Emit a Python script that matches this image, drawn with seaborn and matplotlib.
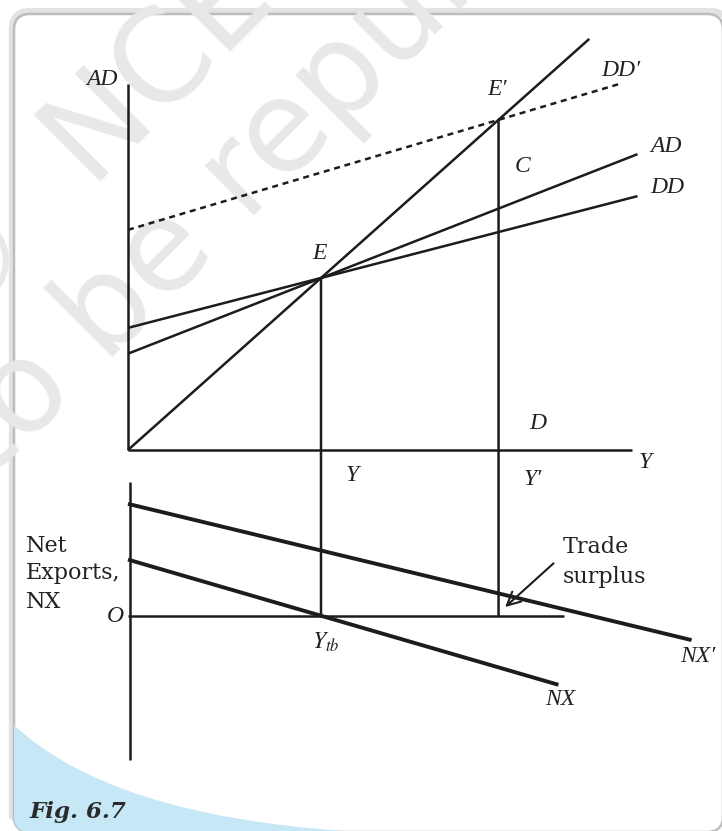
import numpy as np
import pandas as pd
import matplotlib.pyplot as plt
import seaborn as sns
from matplotlib.patches import FancyBboxPatch, PathPatch, ConnectionPatch
from matplotlib.path import Path

# upper panel: income Y (x) against aggregate demand (y), 45 degree line is AD = Y
line45_y = [0.0, 11.95]
line45_ad = [0.0, 11.95]
ad_y = [0.0, 13.2]
ad_ad = [2.8, 8.6]
dd_y = [0.0, 13.2]
dd_ad = [3.55, 7.38]
dd2_y = [0.0, 12.7]
dd2_ad = [6.4, 10.63]
eq_y = [5.0, 9.6]      # E and E'
eq_ad = [5.0, 9.6]

# lower panel: net exports
nx_y = [0.0, 11.15]
nx_val = [1.64, -2.0]
nx2_y = [0.0, 14.6]
nx2_val = [3.26, -0.7]
surplus_pt = (9.77, 0.26)

# axis extents
top_xaxis = [0.0, 13.05]
top_yaxis = [0.0, 10.65]
bot_xaxis = [0.0, 11.3]
bot_yaxis = [-4.2, 3.9]

sns.set_theme(style='white')
plt.rcParams['font.family'] = ['DejaVu Serif', 'DejaVu Sans']
plt.rcParams['mathtext.fontset'] = 'stix'
plt.rcParams['lines.solid_capstyle'] = 'butt'

W, H = 722, 831
fig = plt.figure(figsize=(W / 100, H / 100), dpi=100)

# background: card border, blue corner, watermark
bg = fig.add_axes([0, 0, 1, 1], label='bg')
bg.set_xlim(0, W)
bg.set_ylim(H, 0)
bg.axis('off')
shadow = FancyBboxPatch((12, 11), 716, 823, boxstyle='round,pad=0,rounding_size=18',
                        fc='none', ec='#e2e2e2', lw=4.5, zorder=1)
bg.add_patch(shadow)
box = FancyBboxPatch((14, 14), 709, 818, boxstyle='round,pad=0,rounding_size=16',
                     fc='white', ec='#bdbdbd', lw=1.8, zorder=1.2)
bg.add_patch(box)
blue = PathPatch(Path([(14, 725), (110, 815), (345, 831), (345, 845), (0, 845), (14, 725)],
                      [Path.MOVETO, Path.CURVE3, Path.CURVE3, Path.LINETO, Path.LINETO, Path.CLOSEPOLY]),
                 fc='#c6e7f6', ec='none', zorder=1.5)
bg.add_patch(blue)
blue.set_clip_path(box)

wm = dict(color='#e8e8e8', fontsize=92, family='DejaVu Sans', rotation=45,
          rotation_mode='anchor', va='baseline', zorder=2)
bg.text(88, 182, 'NCERT', ha='left', **wm)
bg.text(36, 236, '\u00a9', ha='right', **wm)
bg.text(105, 365, 'be republished', ha='left', **wm)
bg.text(78, 392, 'not to', ha='right', **wm)

bg.text(30, 818, 'Fig. 6.7', fontsize=16.5, fontweight='bold', style='italic',
        color='#2b2b2b', va='baseline', ha='left', zorder=3)

# top panel axes (data units)
ax = fig.add_axes([0, 0, 1, 1], label='top')
ax.set_xlim(-128 / 38.6, (W - 128) / 38.6)
ax.set_ylim(-(H - 450) / 34.4, 450 / 34.4)
ax.axis('off')

# bottom panel axes
ax2 = fig.add_axes([0, 0, 1, 1], label='bottom')
ax2.set_xlim(-128 / 38.6, (W - 128) / 38.6)
ax2.set_ylim(-(H - 616) / 34.4, 616 / 34.4)
ax2.axis('off')

ink = '#1c1c1c'


def seg(axis, xs, ys, lw=1.8, **kw):
    sns.lineplot(x=xs, y=ys, ax=axis, color=ink, lw=lw, sort=False,
                 estimator=None, legend=False, **kw)


# upper panel
seg(ax, [0, 0], top_yaxis)
seg(ax, top_xaxis, [0, 0])
seg(ax, line45_y, line45_ad)
seg(ax, ad_y, ad_ad)
seg(ax, dd_y, dd_ad)
seg(ax, dd2_y, dd2_ad, linestyle=(0, (2.4, 1.9)))

# lower panel
seg(ax2, [0.05, 0.05], bot_yaxis)
seg(ax2, bot_xaxis, [0, 0])
seg(ax2, nx_y, nx_val, lw=2.8)
seg(ax2, nx2_y, nx2_val, lw=2.8)

# drop lines from E and E' down to the NX axis
for yv, adv in zip(eq_y, eq_ad):
    con = ConnectionPatch(xyA=(yv, adv), coordsA=ax.transData, xyB=(yv, 0),
                          coordsB=ax2.transData, color=ink, lw=1.8)
    fig.add_artist(con)

it = dict(family=['Liberation Serif', 'DejaVu Serif'], style='italic',
          fontsize=17, color='#222222')
ax.text(-0.26, 10.76, 'AD', ha='right', va='center', **it)
ax.text(9.56, 10.49, 'E\u2032', ha='center', va='center', **it)
ax.text(12.77, 11.02, 'DD\u2032', ha='center', va='center', **it)
ax.text(10.23, 8.23, 'C', ha='center', va='center', **it)
ax.text(13.52, 8.81, 'AD', ha='left', va='center', **it)
ax.text(13.52, 7.62, 'DD', ha='left', va='center', **it)
ax.text(4.97, 5.70, 'E', ha='center', va='center', **it)
ax.text(10.62, 0.78, 'D', ha='center', va='center', **it)
ax.text(13.39, -0.35, 'Y', ha='center', va='center', **it)
ax.text(5.80, -0.73, 'Y', ha='center', va='center', **it)
ax.text(10.49, -0.87, 'Y\u2032', ha='center', va='center', **it)

ax2.text(-0.34, 0.0, 'O', ha='center', va='center', **it)
ax2.text(4.77, -0.76, r'$Y_{tb}$', ha='left', va='center', fontsize=17, color='#222222')
ax2.text(14.30, -1.19, 'NX\u2032', ha='left', va='center', **it)
ax2.text(11.19, -2.44, 'NX', ha='center', va='center', **it)

up = dict(fontsize=16, color='#222222', ha='left', va='center')
for word, lvl in zip(['Net', 'Exports,', 'NX'], [2.03, 1.25, 0.41]):
    ax2.text(-2.64, lvl, word, **up)
ax2.annotate('Trade\nsurplus', xy=surplus_pt, xytext=(11.27, 1.57), ha='left', va='center',
             fontsize=16, linespacing=1.45, color='#222222',
             arrowprops=dict(arrowstyle='->,head_length=0.6,head_width=0.3', color=ink,
                             lw=1.5, relpos=(0, 0.64), shrinkA=6, shrinkB=0))

fig.savefig('out.png', dpi=100)
